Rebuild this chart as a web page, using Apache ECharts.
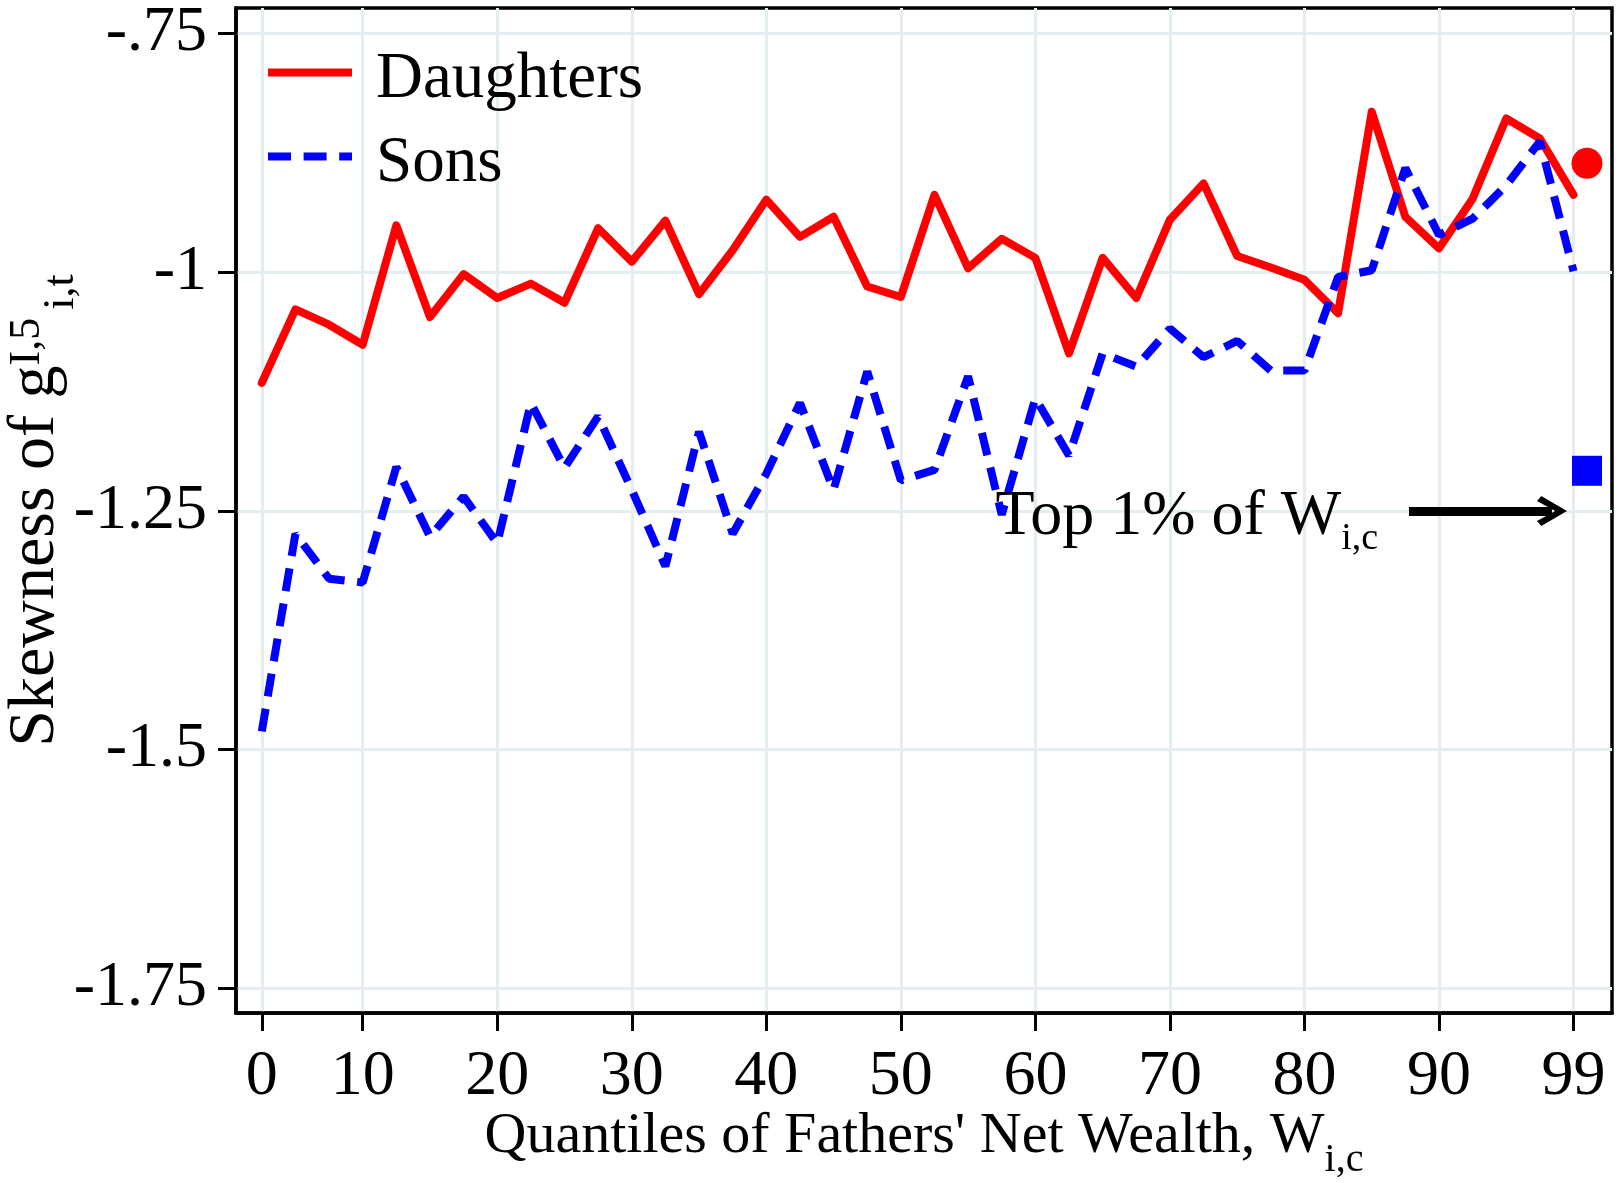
<!DOCTYPE html>
<html>
<head>
<meta charset="utf-8">
<script src="https://cdn.jsdelivr.net/npm/echarts@6/dist/echarts.min.js"></script>
<style>
html,body{margin:0;padding:0;background:#fff;}
#c{width:1620px;height:1183px;}
</style>
</head>
<body>
<div id="c"></div>
<script>
// ---- data ----
const quantiles = [2.5, 5, 7.5, 10, 12.5, 15, 17.5, 20, 22.5, 25, 27.5, 30, 32.5, 35, 37.5, 40, 42.5, 45, 47.5, 50,
                   52.5, 55, 57.5, 60, 62.5, 65, 67.5, 70, 72.5, 75, 77.5, 80, 82.5, 85, 87.5, 90, 92.5, 95, 97.5, 100];
const daughters = [-1.116, -1.039, -1.055, -1.076, -0.951, -1.047, -1.002, -1.027, -1.012, -1.032,
                   -0.954, -0.989, -0.946, -1.023, -0.977, -0.924, -0.963, -0.942, -1.015, -1.026,
                   -0.919, -0.996, -0.965, -0.985, -1.085, -0.985, -1.027, -0.945, -0.907, -0.983,
                   -0.995, -1.008, -1.043, -0.832, -0.942, -0.975, -0.923, -0.839, -0.860, -0.919];
const sons = [-1.481, -1.274, -1.321, -1.325, -1.204, -1.277, -1.235, -1.284, -1.137, -1.205,
              -1.151, -1.228, -1.308, -1.167, -1.274, -1.211, -1.137, -1.228, -1.104, -1.218,
              -1.207, -1.109, -1.254, -1.132, -1.192, -1.085, -1.099, -1.059, -1.089, -1.072,
              -1.103, -1.103, -1.005, -0.998, -0.891, -0.961, -0.944, -0.909, -0.863, -0.999];
const top1Position = 101;
const top1Daughters = -0.886;
const top1Sons = -1.208;
const xTickValues = [2.5, 10, 20, 30, 40, 50, 60, 70, 80, 90, 100];
const xTickLabels = ['0', '10', '20', '30', '40', '50', '60', '70', '80', '90', '99'];
const yTickValues = [-1.75, -1.5, -1.25, -1, -0.75];
const yTickLabels = ['-1.75', '-1.5', '-1.25', '-1', '-.75'];
const annotationText = 'Top 1% of W';
const annotationSub = 'i,c';
const annotationAnchor = [57, -1.25];
const arrowFrom = [87.77, -1.25];
const arrowTo = [98.4, -1.25];

// ---- chart ----
const FONT = '"Liberation Serif", "Times New Roman", serif';
const chart = echarts.init(document.getElementById('c'), null, {renderer: 'canvas', width: 1620, height: 1183});

function pick(values, labels, v) {
  for (let i = 0; i < values.length; i++) {
    if (Math.abs(values[i] - v) < 1e-6) return labels[i];
  }
  return '';
}
const pairs = (xs, ys) => xs.map((x, i) => [x, ys[i]]);
const chevron = 'path://M15,0 L30,24 L25,28 L15,11 L5,28 L0,24 Z';
const solidIcon = 'path://M0,0 H84 V8 H0 Z';
const dashedIcon = 'path://M0,0 H23 V8 H0 Z M35.6,0 H58.6 V8 H35.6 Z M71.2,0 H84 V8 H71.2 Z';

const option = {
  animation: false,
  backgroundColor: '#ffffff',
  grid: {
    left: 236, right: 8, top: 8, bottom: 170,
    show: true, borderColor: '#000', borderWidth: 3.5, backgroundColor: 'transparent',
    containLabel: false, outerBoundsMode: 'none'
  },
  legend: {
    data: [
      {name: 'Daughters', icon: solidIcon, itemStyle: {color: '#ff0000', opacity: 1}},
      {name: 'Sons', icon: dashedIcon, itemStyle: {color: '#0000ff', opacity: 1}}
    ],
    orient: 'vertical',
    left: 268, top: 47,
    padding: 0,
    itemWidth: 84, itemHeight: 8, itemGap: 19,
    selectedMode: false,
    formatter: name => '{t|' + name + '}',
    textStyle: {
      fontFamily: FONT, fontSize: 65, color: '#000',
      rich: {t: {fontFamily: FONT, fontSize: 65, color: '#000', padding: [14, 0, 0, 19]}}
    }
  },
  xAxis: {
    type: 'value',
    min: 0.583, max: 102.86,
    axisLine: {show: true, onZero: false, lineStyle: {color: '#000', width: 3.5}},
    axisTick: {show: true, inside: false, length: 18, customValues: xTickValues, lineStyle: {color: '#000', width: 3}},
    axisLabel: {customValues: xTickValues, formatter: v => pick(xTickValues, xTickLabels, v),
                fontFamily: FONT, fontSize: 64, color: '#000', margin: 32},
    splitLine: {show: true, lineStyle: {color: '#e4edef', width: 3}},
    name: "{a|Quantiles of Fathers' Net Wealth, W}{s|i,c}",
    nameLocation: 'middle', nameGap: 81, nameMoveOverlap: false,
    nameTextStyle: {
      fontFamily: FONT, color: '#000',
      rich: {
        a: {fontFamily: FONT, fontSize: 58, color: '#000', lineHeight: 86},
        s: {fontFamily: FONT, fontSize: 40, color: '#000', lineHeight: 40, verticalAlign: 'bottom'}
      }
    }
  },
  yAxis: {
    type: 'value',
    min: -1.7759, max: -0.7233,
    axisLine: {show: true, onZero: false, lineStyle: {color: '#000', width: 3.5}},
    axisTick: {show: true, inside: false, length: 18, customValues: yTickValues, lineStyle: {color: '#000', width: 3}},
    axisLabel: {customValues: yTickValues, formatter: v => pick(yTickValues, yTickLabels, v),
                fontFamily: FONT, fontSize: 64, color: '#000', margin: 29, padding: [11, 0, 0, 0]},
    splitLine: {show: true, lineStyle: {color: '#e4edef', width: 3}},
    name: '{a|Skewness of g}{p|I,5}{b|i,t}',
    nameLocation: 'middle', nameGap: 150, nameRotate: 90, nameMoveOverlap: false,
    nameTextStyle: {
      fontFamily: FONT, color: '#000',
      rich: {
        a: {fontFamily: FONT, fontSize: 66, color: '#000', lineHeight: 100},
        p: {fontFamily: FONT, fontSize: 44, color: '#000', verticalAlign: 'top', padding: [19, 0, 0, 0]},
        b: {fontFamily: FONT, fontSize: 44, color: '#000', verticalAlign: 'bottom', padding: [0, 0, 3, 8]}
      }
    }
  },
  series: [
    {
      name: 'Daughters', type: 'line', data: pairs(quantiles, daughters),
      symbol: 'none', z: 3, emphasis: {disabled: true},
      itemStyle: {color: '#ff0000'},
      lineStyle: {color: '#ff0000', width: 8, cap: 'round', join: 'round'}
    },
    {
      name: 'Sons', type: 'line', data: pairs(quantiles, sons),
      symbol: 'none', z: 4, emphasis: {disabled: true},
      itemStyle: {color: '#0000ff'},
      lineStyle: {color: '#0000ff', width: 8, type: [23, 12.6], cap: 'butt', join: 'bevel'}
    },
    {
      name: 'Top 1% Daughters', type: 'scatter', data: [[top1Position, top1Daughters]],
      symbol: 'circle', symbolSize: 31, z: 5, emphasis: {disabled: true},
      itemStyle: {color: '#ff0000', opacity: 1}
    },
    {
      name: 'Top 1% Sons', type: 'scatter', data: [[top1Position, top1Sons]],
      symbol: 'rect', symbolSize: 30, z: 5, emphasis: {disabled: true},
      itemStyle: {color: '#0000ff', opacity: 1},
      markLine: {
        silent: true, animation: false,
        symbol: ['none', chevron], symbolSize: 30,
        label: {show: false},
        itemStyle: {color: '#000', opacity: 1},
        lineStyle: {color: '#000', width: 9, type: 'solid', opacity: 1},
        emphasis: {disabled: true},
        data: [[{coord: arrowFrom}, {coord: arrowTo}]]
      },
      markPoint: {
        silent: true, animation: false,
        data: [{
          coord: annotationAnchor, symbol: 'circle', symbolSize: 1,
          itemStyle: {color: 'rgba(0,0,0,0)'},
          label: {
            show: true, position: 'right', distance: 0, offset: [0, 6],
            formatter: '{a|' + annotationText + '}{s|' + annotationSub + '}',
            rich: {
              a: {fontFamily: FONT, fontSize: 64, color: '#000', lineHeight: 82},
              s: {fontFamily: FONT, fontSize: 38, color: '#000', lineHeight: 38, verticalAlign: 'bottom'}
            }
          }
        }]
      }
    }
  ]
};
chart.setOption(option);
</script>
</body>
</html>
